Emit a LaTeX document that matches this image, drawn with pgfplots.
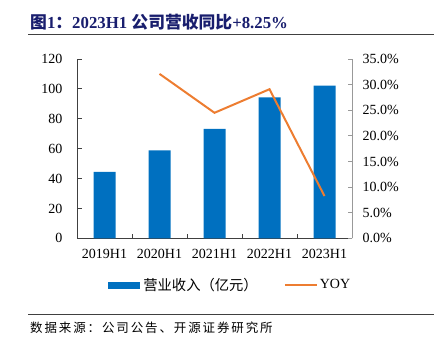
\documentclass[border=0pt]{standalone}
\usepackage{fontspec}
\setmainfont{Liberation Serif}
\newfontfamily\cjk{Noto Sans CJK SC}
\newfontfamily\cjkwide{Noto Sans CJK SC}[LetterSpace=15]
\usepackage{pgfplots}
\pgfplotsset{compat=1.18}
\definecolor{barblue}{RGB}{0,112,192}
\definecolor{lineorange}{RGB}{237,125,49}
\definecolor{titleblue}{RGB}{25,30,110}
\begin{document}
\begin{tikzpicture}[x=1bp,y=1bp]
\useasboundingbox (0,0) rectangle (434,348);
\pgfplotsset{
  base/.style={
    at={(77bp,109.7bp)}, anchor=south west,
    scale only axis, width=275bp, height=179.3bp,
    xmin=-0.5, xmax=4.5,
    tick align=inside,
    major tick length=4.5bp,
    /pgf/number format/assume math mode=true,
    ticklabel style={font=\fontsize{14bp}{16bp}\selectfont},
  }
}
\begin{axis}[
  base,
  ymin=0, ymax=120,
  axis x line*=bottom, axis y line*=left,
  axis line style={-, draw=black!75, line width=0.8bp},
  ytick={0,20,...,120},
  xtick={-0.5,0.5,1.5,2.5,3.5,4.5},
  x tick label as interval,
  xticklabels={2019H1,2020H1,2021H1,2022H1,2023H1},
  x tick style={draw=black!75, line width=0.8bp},
  y tick style={draw=black!75, line width=0.8bp},
  yticklabel style={xshift=-11bp},
  xticklabel style={yshift=-7bp},
]
\addplot[ybar, bar width=22bp, fill=barblue, draw=none] coordinates {
  (0,44.5) (1,58.8) (2,73.2) (3,94.3) (4,102.1)
};
\end{axis}
\begin{axis}[
  base,
  ymin=0, ymax=35,
  axis x line=none, axis y line*=right,
  axis line style={-, draw=black!40, line width=0.8bp},
  ytick={0,5,...,35},
  y tick style={draw=black!40, line width=0.8bp},
  yticklabel={\pgfmathprintnumber[fixed,fixed zerofill,precision=1]{\tick}\%},
  yticklabel style={xshift=7bp},
  legend columns=2,
  legend style={at={(0.1127,-0.2605)}, anchor=west, draw=none, fill=none,
    inner sep=0pt, outer sep=0pt,
    nodes={inner sep=0pt, anchor=west},
    /tikz/every odd column/.style={column sep=4bp},
    /tikz/every even column/.style={column sep=26bp},
    /tikz/column 3/.style={column sep=0bp}},
]
\addlegendimage{legend image code/.code={\fill[barblue] (0bp,-3.3bp) rectangle (31bp,3.3bp);}}
\addlegendentry{\cjk\fontsize{14.3bp}{15bp}\selectfont 营业收入（亿元）}
\addplot[lineorange, line width=2bp, mark=none,
  legend image code/.code={\draw[lineorange, line width=2bp] (0bp,0bp) -- (32bp,0bp);}]
  coordinates {(1,32.1) (2,24.5) (3,29.1) (4,8.25)};
\addlegendentry{\fontsize{14bp}{16bp}\selectfont\kern-2bp YOY}
\end{axis}
\node[anchor=base west, text=titleblue, font=\bfseries\fontsize{16.8bp}{18bp}\selectfont, inner sep=0pt]
  at (30,320) {{\cjk 图}1{\cjk ：}2023H1 {\cjk 公司营收同比}+8.25\%};
\draw[black!75, line width=1bp] (28,313.5) -- (434,313.5);
\draw[black!75, line width=1bp] (28,34) -- (434,34);
\node[anchor=base west, inner sep=0pt, font=\fontsize{12.5bp}{14bp}\selectfont]
  at (30,16) {\cjkwide 数据来源：公司公告、开源证券研究所};
\end{tikzpicture}
\end{document}
